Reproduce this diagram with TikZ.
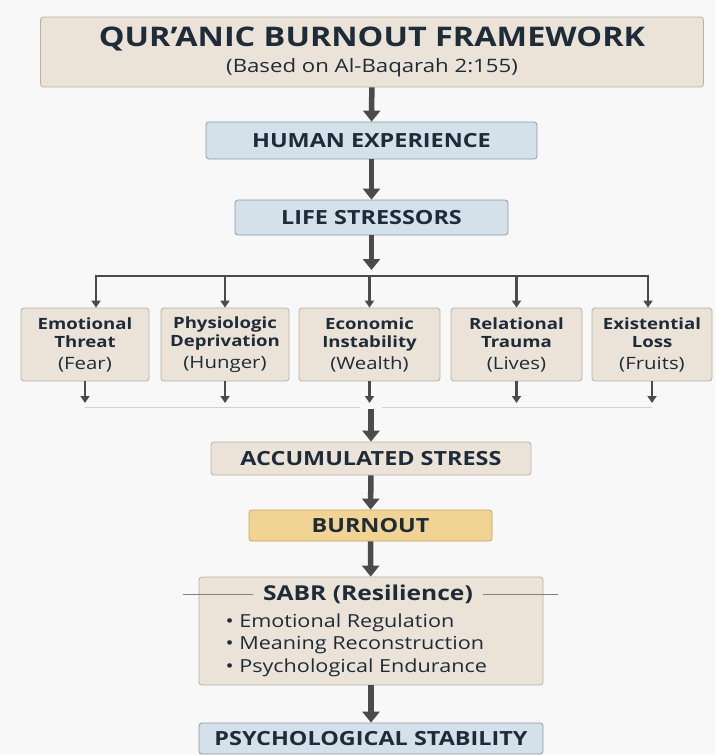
\documentclass[tikz,border=0pt]{standalone}
\usepackage{fontspec}
\setmainfont[FakeStretch=1.2]{Open Sans}
\usetikzlibrary{arrows.meta}

\definecolor{ink}{HTML}{1E2B38}
\definecolor{pagebg}{HTML}{F8F8F8}
\definecolor{beigefill}{HTML}{EBE3D7}
\definecolor{beigeline}{HTML}{B9B0A4}
\definecolor{bluefill}{HTML}{D5E1EA}
\definecolor{blueline}{HTML}{8D99A4}
\definecolor{goldfill}{HTML}{F1D493}
\definecolor{goldline}{HTML}{C4A25E}
\definecolor{arrowgray}{HTML}{4B4B4B}
\definecolor{rulegray}{HTML}{D2D2D2}

\begin{document}
\begin{tikzpicture}[x=1pt, y=-1pt,
  card/.style={rounded corners=3pt, line width=0.8pt, text=ink, inner sep=0pt},
  beigebox/.style={card, draw=beigeline, fill=beigefill},
  bluebox/.style={card, draw=blueline, fill=bluefill},
  goldbox/.style={card, draw=goldline, fill=goldfill},
  heading/.style={font=\fontsize{19.5}{22}\selectfont\bfseries},
  stressor/.style={beigebox, minimum height=73pt, align=center,
    font=\fontsize{15.5}{18}\selectfont},
  bigarrow/.style={draw=arrowgray, line width=5.5pt, -{Triangle[width=17pt,length=11pt]}},
  smallarrow/.style={draw=arrowgray, line width=2.2pt, -{Triangle[width=9pt,length=7pt]}}]

  \fill[pagebg] (0,0) rectangle (715,755);
  \useasboundingbox (0,0) rectangle (715,755);

  % top of the flow
  \node[beigebox, minimum width=663pt, minimum height=70pt, align=center] (title) at (372,52)
    {\fontsize{27}{30}\selectfont\bfseries QUR’ANIC BURNOUT FRAMEWORK\\[6pt]
     \fontsize{18.5}{22}\selectfont (Based on Al-Baqarah 2:155)};
  \node[bluebox, heading, minimum width=331pt, minimum height=37pt] (human) at (371.5,140.5) {HUMAN EXPERIENCE};
  \node[bluebox, heading, minimum width=273pt, minimum height=35pt] (life) at (371.5,217.5) {LIFE STRESSORS};

  \draw[bigarrow] (title) -- (human);
  \draw[bigarrow] (human) -- (life);

  % the five stressors
  \node[stressor, minimum width=128pt] (fear) at (85,344.5)
    {\textbf{Emotional}\\\textbf{Threat}\\[4pt]{\fontsize{17}{18}\selectfont(Fear)}};
  \node[stressor, minimum width=128pt] (hunger) at (225,344.5)
    {\textbf{Physiologic}\\\textbf{Deprivation}\\[4pt]{\fontsize{17}{18}\selectfont(Hunger)}};
  \node[stressor, minimum width=141pt] (wealth) at (369.5,344.5)
    {\textbf{Economic}\\\textbf{Instability}\\[4pt]{\fontsize{17}{18}\selectfont(Wealth)}};
  \node[stressor, minimum width=131pt] (lives) at (516.5,344.5)
    {\textbf{Relational}\\\textbf{Trauma}\\[4pt]{\fontsize{17}{18}\selectfont(Lives)}};
  \node[stressor, minimum width=120pt] (fruits) at (652,344.5)
    {\textbf{Existential}\\\textbf{Loss}\\[4pt]{\fontsize{17}{18}\selectfont(Fruits)}};

  \coordinate (busL) at (96,276);
  \coordinate (busR) at (648,276);
  \draw[bigarrow] (life) -- (life.south |- 0,270);
  \draw[smallarrow, {Triangle[width=9pt,length=7pt]}-{Triangle[width=9pt,length=7pt]}, line join=miter]
    (busL |- fear.north) -- (busL) -- (busR) -- (busR |- fruits.north);
  \foreach \s in {hunger, wealth, lives}
    \draw[smallarrow] (\s.north |- busL) -- (\s.north);

  % gathering the stress
  \coordinate (gather) at (371,407);
  \foreach \s in {fear, hunger, wealth, lives, fruits}
    \draw[smallarrow] (\s.south) -- ([yshift=4pt]\s.south |- gather);
  \draw[rulegray, line width=0.8pt] (fear.south |- gather) -- (360,407)
    (382,407) -- (fruits.south |- gather);

  \node[beigebox, heading, minimum width=320pt, minimum height=33pt] (stress) at (371,458.5) {ACCUMULATED STRESS};
  \node[goldbox, heading, minimum width=243pt, minimum height=31pt] (burnout) at (370.5,525.5) {BURNOUT};
  \draw[bigarrow] ([yshift=-2pt]gather) -- (stress);
  \draw[bigarrow] (stress) -- (burnout);

  % sabr
  \node[beigebox, minimum width=344pt, minimum height=108pt] (sabr) at (371,631) {};
  \draw[arrowgray!70, line width=0.8pt] (183,594) -- (558,594);
  \node[text=ink, font=\fontsize{20.5}{22}\selectfont\bfseries, fill=beigefill, inner xsep=10pt, inner ysep=2pt]
    (sabrtitle) at (368,594) {SABR (Resilience)};
  \node[text=ink, align=left, font=\fontsize{18}{22.5}\selectfont, anchor=north west] (sabrlist) at (222,610)
    {• Emotional Regulation\\• Meaning Reconstruction\\• Psychological Endurance};
  \draw[bigarrow] (burnout) -- (sabr);

  \node[bluebox, heading, minimum width=344pt, minimum height=31pt] (stable) at (371,738.5) {PSYCHOLOGICAL STABILITY};
  \draw[bigarrow] (sabr) -- (stable);
\end{tikzpicture}
\end{document}
